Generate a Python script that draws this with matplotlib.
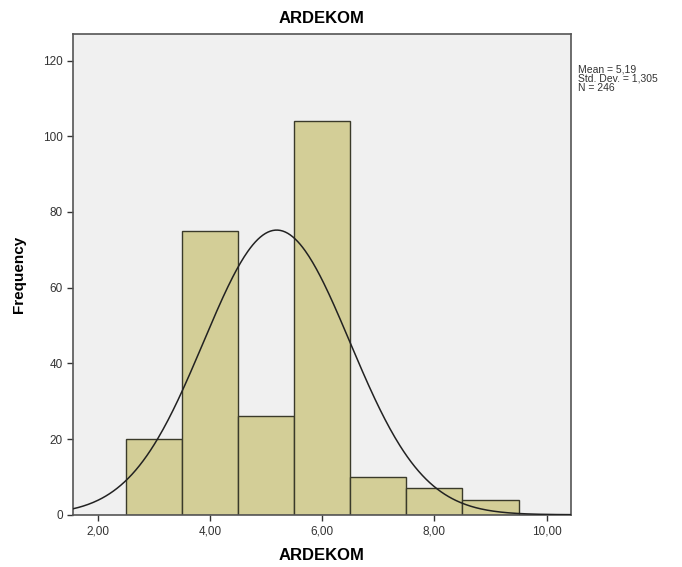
import numpy as np
import matplotlib.pyplot as plt

plt.rcParams['font.family'] = ['Liberation Sans', 'DejaVu Sans']

# histogram bins (value classes) and counts
bin_centers = [3, 4, 5, 6, 7, 8, 9]
counts = [20, 75, 26, 104, 10, 7, 4]
bin_width = 1.0

# summary stats shown in the SPSS legend
mean_val = 5.19
std_val = 1.305
n_val = 246

x_ticks = [2, 4, 6, 8, 10]
x_tick_labels = ['2,00', '4,00', '6,00', '8,00', '10,00']
y_ticks = [0, 20, 40, 60, 80, 100, 120]

fig = plt.figure(figsize=(6.82, 5.67), dpi=100)
ax = fig.add_axes([0.1075, 0.0922, 0.7293, 0.8478])
ax.set_facecolor('#F0F0F0')

ax.bar(bin_centers, counts, width=bin_width, color='#D3CE97',
       edgecolor='#3a3a2a', linewidth=1.0, zorder=2)

# normal curve scaled to counts
xs = np.linspace(1.565, 10.43, 400)
ys = n_val * bin_width / (std_val * np.sqrt(2 * np.pi)) * \
    np.exp(-0.5 * ((xs - mean_val) / std_val) ** 2)
ax.plot(xs, ys, color='#222222', linewidth=1.1, zorder=3)

ax.set_xlim(1.565, 10.43)
ax.set_ylim(0, 127)
ax.set_xticks(x_ticks)
ax.set_xticklabels(x_tick_labels)
ax.set_yticks(y_ticks)
ax.tick_params(axis='both', labelsize=8.5, colors='#333333', length=4, width=1)

for sp in ax.spines.values():
    sp.set_color('#555555')
    sp.set_linewidth(1.2)

ax.set_title('ARDEKOM', fontsize=12, fontweight='bold', pad=8)
ax.set_xlabel('ARDEKOM', fontsize=12, fontweight='bold', labelpad=8)
ax.set_ylabel('Frequency', fontsize=11, fontweight='bold', labelpad=12)

fig.text(0.848, 0.887, 'Mean = 5,19\nStd. Dev. = 1,305\nN = 246',
         fontsize=7.5, va='top', ha='left', color='#333333', linespacing=0.95)

fig.savefig('out.png', dpi=100)
